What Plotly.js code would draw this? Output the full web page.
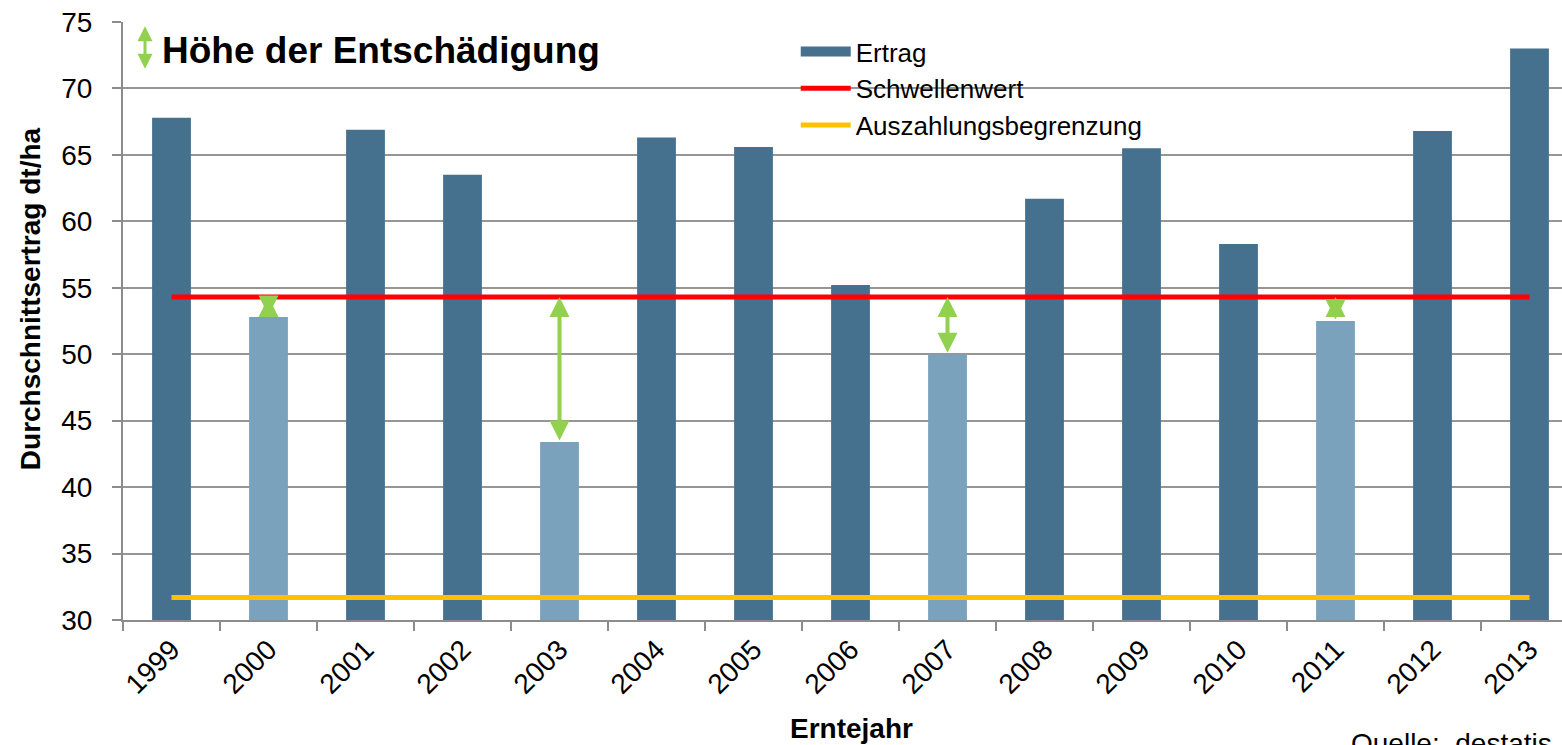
<!DOCTYPE html>
<html>
<head>
<meta charset="utf-8">
<script src="https://cdn.plot.ly/plotly-3.0.1.min.js"></script>
<style>
  html, body { margin: 0; padding: 0; background: #fff; }
  #chart { width: 1562px; height: 745px; }
</style>
</head>
<body>
<div id="chart"></div>
<script>
// Ernteerträge (dt/ha) je Erntejahr
const years = ['1999', '2000', '2001', '2002', '2003', '2004', '2005', '2006',
               '2007', '2008', '2009', '2010', '2011', '2012', '2013'];
const ertrag = [67.8, 52.8, 66.9, 63.5, 43.4, 66.3, 65.6, 55.2,
                50.0, 61.7, 65.5, 58.3, 52.5, 66.8, 73.0];
const schwellenwert = 54.3;
const auszahlungsbegrenzung = 31.7;

const dark = '#46718e';
const light = '#7aa2bd';
const green = '#92d050';
const font = 'Liberation Sans, Arial, sans-serif';

// Jahre unter dem Schwellenwert werden hell dargestellt
const barColors = ertrag.map(v => v < schwellenwert ? light : dark);

const traces = [
    {
        type: 'bar',
        x: years,
        y: ertrag,
        name: 'Ertrag',
        width: 0.4,
        marker: { color: barColors },
        showlegend: false
    },
    // nur für die Legende (breites Rechteck statt Quadrat)
    {
        type: 'scatter',
        mode: 'lines',
        x: [null],
        y: [null],
        name: 'Ertrag',
        line: { color: dark, width: 14 }
    },
    {
        type: 'scatter',
        mode: 'lines',
        x: [years[0], years[years.length - 1]],
        y: [schwellenwert, schwellenwert],
        name: 'Schwellenwert',
        line: { color: '#ff0000', width: 5 }
    },
    {
        type: 'scatter',
        mode: 'lines',
        x: [years[0], years[years.length - 1]],
        y: [auszahlungsbegrenzung, auszahlungsbegrenzung],
        name: 'Auszahlungsbegrenzung',
        line: { color: '#ffc000', width: 5 }
    }
];

// Entschädigungspfeile zwischen Ertrag und Schwellenwert
const annotations = [];
ertrag.forEach((v, i) => {
    if (v < schwellenwert) {
        annotations.push({
            x: i, y: schwellenwert, xref: 'x', yref: 'y',
            ax: i, ay: v, axref: 'x', ayref: 'y',
            text: '', showarrow: true,
            arrowside: 'end+start', arrowhead: 2, arrowsize: 1,
            arrowwidth: 4, arrowcolor: green, standoff: 0, startstandoff: 0
        });
    }
});

// Legende "Höhe der Entschädigung"
annotations.push({
    xref: 'paper', yref: 'paper', x: 0.0153, y: 0.993,
    ax: 0, ay: 44, axref: 'pixel', ayref: 'pixel',
    text: '', showarrow: true, arrowside: 'end+start',
    arrowhead: 2, arrowsize: 1, arrowwidth: 3, arrowcolor: green
});
annotations.push({
    xref: 'paper', yref: 'paper', x: 0.026, y: 0.952,
    xanchor: 'left', yanchor: 'middle', showarrow: false,
    text: '<b>Höhe der Entschädigung</b>',
    font: { family: font, size: 37, color: '#000' }
});

// Achsentitel
annotations.push({
    xref: 'paper', yref: 'paper', x: -0.0647, y: 0.538,
    xanchor: 'center', yanchor: 'middle', textangle: -90, showarrow: false,
    text: '<b>Durchschnittsertrag dt/ha</b>',
    font: { family: font, size: 28, color: '#000' }
});
annotations.push({
    xref: 'paper', yref: 'paper', x: 0.506, y: -0.181,
    xanchor: 'center', yanchor: 'middle', showarrow: false,
    text: '<b>Erntejahr</b>',
    font: { family: font, size: 28, color: '#000' }
});
annotations.push({
    xref: 'paper', yref: 'paper', x: 0.852, y: -0.177,
    xanchor: 'left', yanchor: 'top', showarrow: false,
    text: 'Quelle:  destatis, V',
    font: { family: font, size: 28, color: '#000' }
});

const layout = {
    width: 1562,
    height: 745,
    margin: { l: 123, r: 0, t: 22, b: 125 },
    paper_bgcolor: '#fff',
    plot_bgcolor: '#fff',
    font: { family: font, size: 28, color: '#000' },
    showlegend: true,
    legend: {
        x: 0.4675, y: 0.99, xanchor: 'left', yanchor: 'top',
        bgcolor: 'rgba(0,0,0,0)',
        itemwidth: 50,
        tracegroupgap: 0,
        font: { family: font, size: 26, color: '#000' }
    },
    bargap: 0.6,
    xaxis: {
        type: 'category',
        range: [-0.5, 14.335],
        tickson: 'boundaries',
        ticks: 'outside',
        ticklen: 9,
        tickwidth: 2,
        tickcolor: '#8c8c8c',
        showline: true,
        linecolor: '#8c8c8c',
        linewidth: 2,
        tickangle: -45,
        showgrid: false,
        tickfont: { family: font, size: 28, color: '#000' }
    },
    yaxis: {
        range: [30, 75],
        dtick: 5,
        ticks: 'outside',
        ticklen: 9,
        tickwidth: 2,
        tickcolor: '#8c8c8c',
        ticksuffix: '\u2002',
        showline: true,
        linecolor: '#8c8c8c',
        linewidth: 2,
        gridcolor: '#969696',
        gridwidth: 2,
        zeroline: false,
        tickfont: { family: font, size: 28, color: '#000' }
    },
    shapes: [
        {
            type: 'rect', xref: 'paper', yref: 'paper', layer: 'between',
            x0: 0.4322, x1: 0.7693, y0: 0.803, y1: 0.987,
            fillcolor: '#fff', line: { width: 0 }
        }
    ],
    annotations: annotations
};

Plotly.newPlot('chart', traces, layout, { displayModeBar: false, staticPlot: true });
</script>
</body>
</html>
